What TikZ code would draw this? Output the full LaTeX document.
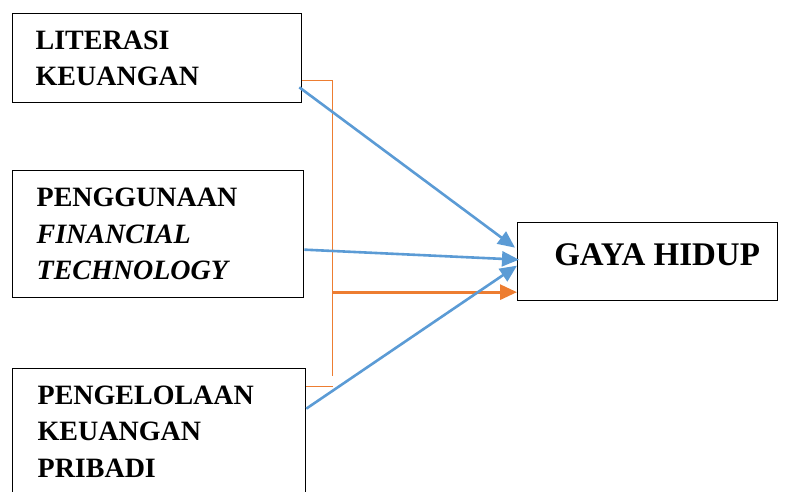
\documentclass[tikz,border=0pt]{standalone}
\usepackage{fontspec}
\setmainfont{Liberation Serif}
\usetikzlibrary{arrows.meta,calc}
\definecolor{linkblue}{HTML}{5B9BD5}
\definecolor{linkorange}{HTML}{ED7D31}
\tikzset{every node/.style={font=\fontsize{28}{36.5}\selectfont\bfseries},
  varbox/.style={draw=black, line width=1.3pt, anchor=north west, inner xsep=23pt, text width=243pt, align=left},
  link/.style={linkblue, line width=2.6pt, -{Triangle[length=17pt,width=15pt]}},
  bracket/.style={linkorange, line width=1.1pt}}
\begin{document}
\begin{tikzpicture}[x=1pt,y=-1pt]
  \useasboundingbox (0,0) rectangle (788,491);
  % variabel bebas
  \node[varbox, minimum width=289pt, minimum height=89pt] (lit) at (12,13) {LITERASI\\KEUANGAN};
  \node[varbox, minimum width=291pt, minimum height=127pt] (fin) at (12,170) {PENGGUNAAN\\\textit{FINANCIAL}\\\textit{TECHNOLOGY}};
  \node[varbox, minimum width=293pt, minimum height=126pt] (pkp) at (12,368) {PENGELOLAAN\\KEUANGAN\\PRIBADI};
  % variabel terikat
  \node[draw=black, line width=1.3pt, anchor=north west, minimum width=260pt, minimum height=78pt, inner sep=0pt, text depth=14pt, font=\fontsize{33}{38}\selectfont\bfseries] (gaya) at (517,222) {\hspace*{19pt}GAYA HIDUP};
  % simultan
  \coordinate (top) at ($(lit.east)+(30,22.5)$);
  \coordinate (bot) at ($(pkp.east)+(27,-45)$);
  \coordinate (tip) at ($(gaya.west)+(0,30.5)$);
  \draw[bracket] (lit.east |- top) -- (top) -- ++(0,295);
  \draw[bracket] (pkp.east |- bot) -- (bot);
  \draw[link, linkorange, line width=2.9pt] (top |- tip) -- (tip);
  % parsial
  \draw[link] ($(lit.south east)+(-3,-16)$) -- ($(gaya.west)+(-2,-14)$);
  \draw[link] ($(fin.east)+(0,15.5)$) -- ($(gaya.west)+(2,-2)$);
  \draw[link] ($(pkp.east)+(0,-23)$) -- ($(gaya.west)+(0,4)$);
\end{tikzpicture}
\end{document}
